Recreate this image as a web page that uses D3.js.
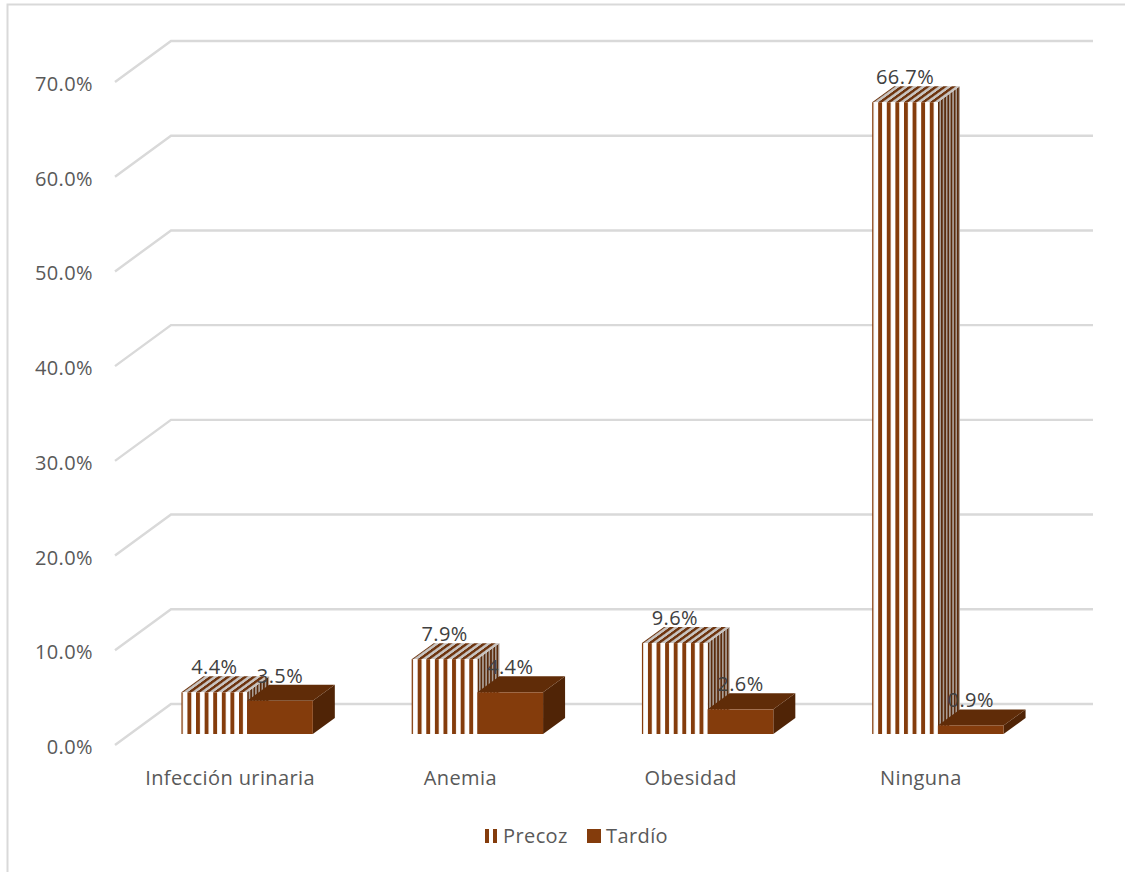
<!DOCTYPE html>
<html>
<head>
<meta charset="utf-8">
<script src="https://cdn.jsdelivr.net/npm/d3@7"></script>
<style>
html,body{margin:0;padding:0;background:#fff;}
svg{display:block;}
text{font-family:"Open Sans",sans-serif;font-size:20px;letter-spacing:.4px;}
</style>
</head>
<body>
<div id="chart"></div>
<script>
// Chart data
const categories = ["Infección urinaria", "Anemia", "Obesidad", "Ninguna"];
const precoz = [4.4, 7.9, 9.6, 66.7];
const tardio = [3.5, 4.4, 2.6, 0.9];
const seriesNames = ["Precoz", "Tardío"];
const tickValues = [0, 10, 20, 30, 40, 50, 60, 70];

const width = 1125, height = 872;
const brown = "#843c0c", brownTop = "#602c08", brownSide = "#502406";
const gridColor = "#d9d9d9", textColor = "#595959", labelColor = "#404040";

// Oblique projection: wall depth and bar depth
const wall = {dx: 56, dy: -41};
const depth = {dx: 22, dy: -16};
const barInset = {dx: 17, dy: -11};   // bars stand part-way into the floor

const svg = d3.select("#chart").append("svg").attr("width", width).attr("height", height);
const defs = svg.append("defs");

const y = d3.scaleLinear().domain([0, 70]).range([745, 82]);
const x = d3.scaleBand().domain(categories).range([115, 1036]);
const barW = 65.7;
const h = v => y(0) - y(v);

// Striped pattern; the phase is anchored per bar
function stripes(id, period, w, bg, fg, transform) {
  const p = defs.append("pattern").attr("id", id)
    .attr("patternUnits", "userSpaceOnUse")
    .attr("width", period).attr("height", 10)
    .attr("patternTransform", transform);
  p.append("rect").attr("width", period).attr("height", 10).attr("fill", bg);
  p.append("rect").attr("width", w).attr("height", 10).attr("fill", fg);
}
stripes("legend", 8, 4, "#ffffff", brown, "translate(485,0)");

// Chart frame: only the left and top edges fall inside the canvas
svg.append("path").attr("d", "M7.5,872V4.5H1125")
  .attr("fill", "none").attr("stroke", gridColor).attr("stroke-width", 2);

// Wall and floor gridlines
const grid = svg.append("g").attr("fill", "none").attr("stroke", gridColor).attr("stroke-width", 2.4);
grid.selectAll("path").data(tickValues).join("path")
  .attr("d", v => `M115,${y(v)}L${115 + wall.dx},${y(v) + wall.dy}H1093`);

// Value axis labels
svg.append("g").selectAll("text").data(tickValues).join("text")
  .attr("x", 93).attr("y", v => y(v) + 9)
  .attr("text-anchor", "end").attr("fill", textColor)
  .text(v => d3.format(".1f")(v) + "%");

// Category labels
svg.append("g").selectAll("text").data(categories).join("text")
  .attr("x", c => x(c) + x.bandwidth() / 2).attr("y", 785)
  .attr("text-anchor", "middle").attr("fill", textColor)
  .text(c => c);

// One oblique box: front, top and side faces
function box(g, x0, v, fills) {
  const base = y(0) + barInset.dy, top = base - h(v), x1 = x0 + barW;
  g.append("path").attr("fill", fills.side)
    .attr("d", `M${x1},${base}L${x1 + depth.dx},${base + depth.dy}V${top + depth.dy}L${x1},${top}Z`);
  g.append("path").attr("fill", fills.top)
    .attr("d", `M${x0},${top}L${x0 + depth.dx},${top + depth.dy}H${x1 + depth.dx}L${x1},${top}Z`);
  g.append("rect").attr("x", x0).attr("y", top).attr("width", barW).attr("height", h(v)).attr("fill", fills.front);
}

const bars = svg.append("g");
const barsX = c => x(c) + x.bandwidth() / 2 + barInset.dx;
categories.forEach((c, i) => {
  const x0 = barsX(c) - barW;
  const top = y(0) + barInset.dy - h(precoz[i]);
  stripes(`front${i}`, 8.6, 3.9, "#ffffff", brown, `translate(${x0 + 6},0)`);
  stripes(`top${i}`, 8.6, 4.2, "#c8c4c1", "#6e3510", `translate(${x0 + 6},${top}) skewX(-54)`);
  stripes(`side${i}`, 3.2, 1.6, "#a89c94", "#5a2a0a", `translate(${x0 + barW},0)`);
  box(bars, x0, precoz[i], {front: `url(#front${i})`, top: `url(#top${i})`, side: `url(#side${i})`});
  box(bars, barsX(c), tardio[i], {front: brown, top: brownTop, side: brownSide});
});

// Value labels sit above the front edge of each bar
const labels = svg.append("g").attr("text-anchor", "middle").attr("fill", labelColor);
categories.forEach((c, i) => {
  const base = y(0) + barInset.dy;
  labels.append("text").attr("x", barsX(c) - barW / 2).attr("y", base - h(precoz[i]) - 18).text(precoz[i].toFixed(1) + "%");
  labels.append("text").attr("x", barsX(c) + barW / 2).attr("y", base - h(tardio[i]) - 18).text(tardio[i].toFixed(1) + "%");
});

// Legend
const legend = svg.append("g");
legend.append("rect").attr("x", 485).attr("y", 829).attr("width", 12).attr("height", 14).attr("fill", "url(#legend)");
legend.append("rect").attr("x", 587).attr("y", 829).attr("width", 14).attr("height", 14).attr("fill", brown);
legend.append("text").attr("x", 503).attr("y", 843).attr("fill", textColor).text(seriesNames[0]);
legend.append("text").attr("x", 606).attr("y", 843).attr("fill", textColor).text(seriesNames[1]);
</script>
</body>
</html>
